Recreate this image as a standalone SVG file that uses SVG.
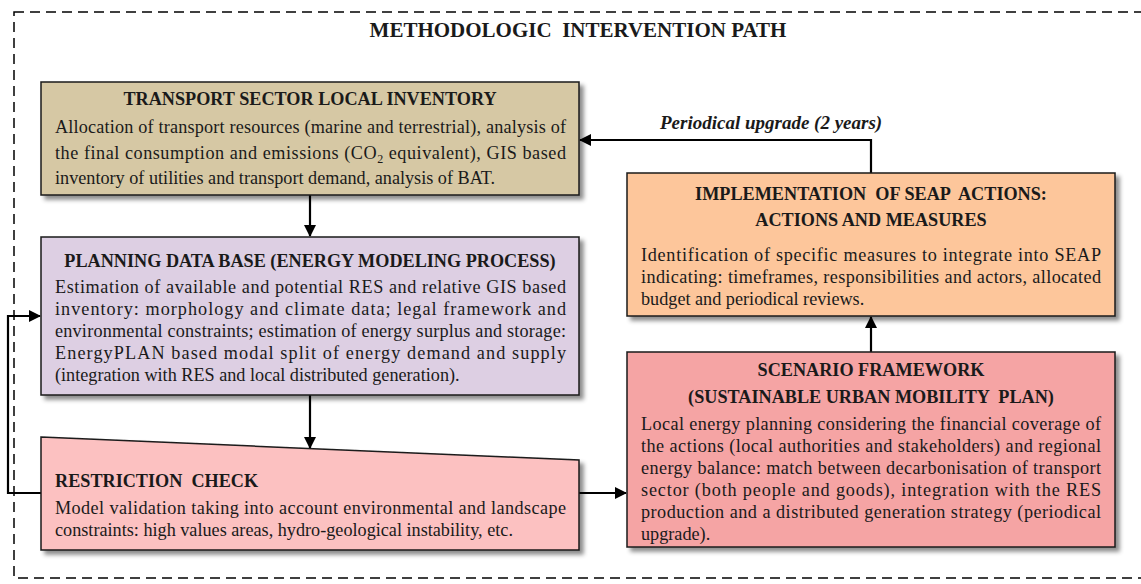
<svg xmlns="http://www.w3.org/2000/svg" width="1141" height="584" viewBox="0 0 1141 584">
<defs>
<filter id="sh" x="-5%" y="-5%" width="115%" height="120%">
<feDropShadow dx="4" dy="4" stdDeviation="2" flood-color="#000" flood-opacity="0.45"/>
</filter>
<marker id="ah" viewBox="0 0 12 12" refX="11" refY="6" markerWidth="12" markerHeight="12" markerUnits="userSpaceOnUse" orient="auto">
<path d="M0,0 L12,6 L0,12 Z" fill="#000"/>
</marker>
</defs>
<style>
.box{stroke:#1a1a1a;stroke-width:1.5;filter:url(#sh)}
.t{font-family:"Liberation Serif","Times New Roman",serif;fill:#1a1a1a;white-space:pre}
.h{font-weight:bold;font-size:18.2px}
.b{font-size:18.2px}
.c{stroke:#000;stroke-width:2.2;fill:none}
</style>
<rect x="14" y="12" width="1140" height="566" fill="none" stroke="#000" stroke-width="1.5" stroke-dasharray="10,6"/>
<text class="t" x="578" y="37" text-anchor="middle" font-weight="bold" font-size="21px">METHODOLOGIC  INTERVENTION PATH</text>

<g id="connectors">
<path class="c" d="M310,195 V236" marker-end="url(#ah)"/>
<path class="c" d="M310,395 V448" marker-end="url(#ah)"/>
<path class="c" d="M579,493 H626" marker-end="url(#ah)"/>
<path class="c" d="M871,352 V317" marker-end="url(#ah)"/>
<path class="c" d="M871,173 V140 H580" marker-end="url(#ah)"/>
<path class="c" d="M41,493 H8 V316 H40" marker-end="url(#ah)"/>
<text class="t" x="660" y="129" font-weight="bold" font-style="italic" font-size="19px">Periodical upgrade (2 years)</text>
</g>

<g id="transport">
<rect class="box" x="41" y="82" width="538" height="113" fill="#d6c8a4"/>
<text class="t h" x="310" y="105" text-anchor="middle">TRANSPORT SECTOR LOCAL INVENTORY</text>
<text class="t b" x="55" y="133" font-size="18.5px" textLength="511" lengthAdjust="spacing">Allocation of transport resources (marine and terrestrial), analysis of</text>
<text class="t b" x="55" y="159" font-size="18.5px" textLength="511" lengthAdjust="spacing">the final consumption and emissions (CO<tspan font-size="12px" dy="4">2</tspan><tspan dy="-4"> equivalent), GIS based</tspan></text>
<text class="t b" x="55" y="184" font-size="18.5px">inventory of utilities and transport demand, analysis of BAT.</text>
</g>

<g id="planning">
<rect class="box" x="41" y="237" width="538" height="158" fill="#ddcfe3"/>
<text class="t h" x="310" y="267" text-anchor="middle">PLANNING DATA BASE (ENERGY MODELING PROCESS)</text>
<text class="t b" x="55" y="293" textLength="511" lengthAdjust="spacing">Estimation of available and potential RES and relative GIS based</text>
<text class="t b" x="55" y="315" textLength="511" lengthAdjust="spacing">inventory: morphology and climate data; legal framework and</text>
<text class="t b" x="55" y="337" textLength="511" lengthAdjust="spacing">environmental constraints; estimation of energy surplus and storage:</text>
<text class="t b" x="55" y="359" textLength="511" lengthAdjust="spacing">EnergyPLAN based modal split of energy demand and supply</text>
<text class="t b" x="55" y="381">(integration with RES and local distributed generation).</text>
</g>

<g id="restriction">
<polygon class="box" points="41,437 579,460 579,550 41,550" fill="#fcc1c1"/>
<text class="t h" x="55" y="487">RESTRICTION  CHECK</text>
<text class="t b" x="55" y="514" textLength="511" lengthAdjust="spacing">Model validation taking into account environmental and landscape</text>
<text class="t b" x="55" y="536">constraints: high values areas, hydro-geological instability, etc.</text>
</g>

<g id="implementation">
<rect class="box" x="627" y="173" width="488" height="143" fill="#fdc69b"/>
<text class="t h" x="871" y="200" text-anchor="middle">IMPLEMENTATION  OF SEAP  ACTIONS:</text>
<text class="t h" x="871" y="226" text-anchor="middle">ACTIONS AND MEASURES</text>
<text class="t b" x="641" y="261" textLength="460" lengthAdjust="spacing">Identification of specific measures to integrate into SEAP</text>
<text class="t b" x="641" y="283" textLength="460" lengthAdjust="spacing">indicating: timeframes, responsibilities and actors, allocated</text>
<text class="t b" x="641" y="305">budget and periodical reviews.</text>
</g>

<g id="scenario">
<rect class="box" x="627" y="352" width="488" height="195" fill="#f5a4a4"/>
<text class="t h" x="871" y="376" text-anchor="middle">SCENARIO FRAMEWORK</text>
<text class="t h" x="871" y="403" text-anchor="middle">(SUSTAINABLE URBAN MOBILITY  PLAN)</text>
<text class="t b" x="641" y="430" textLength="460" lengthAdjust="spacing">Local energy planning considering the financial coverage of</text>
<text class="t b" x="641" y="452" textLength="460" lengthAdjust="spacing">the actions (local authorities and stakeholders) and regional</text>
<text class="t b" x="641" y="474" textLength="460" lengthAdjust="spacing">energy balance: match between decarbonisation of transport</text>
<text class="t b" x="641" y="496" textLength="460" lengthAdjust="spacing">sector (both people and goods), integration with the RES</text>
<text class="t b" x="641" y="518" textLength="460" lengthAdjust="spacing">production and a distributed generation strategy (periodical</text>
<text class="t b" x="641" y="540">upgrade).</text>
</g>
</svg>
